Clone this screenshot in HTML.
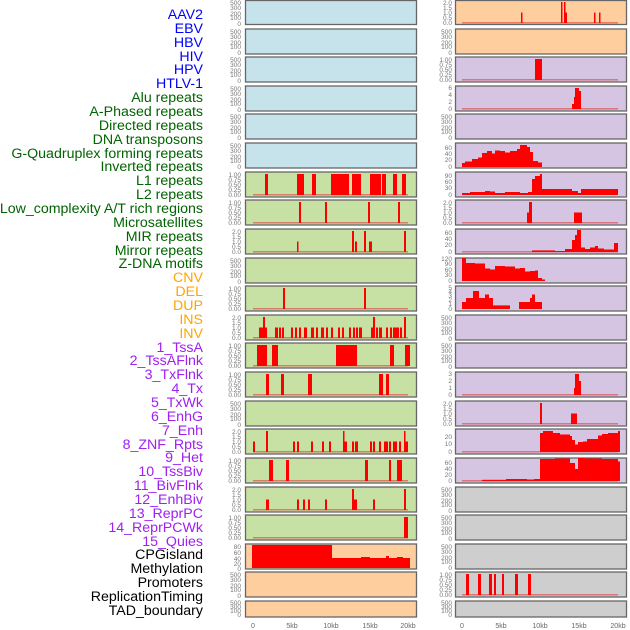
<!DOCTYPE html>
<html><head><meta charset="utf-8"><style>
body{margin:0;background:#fff;width:630px;height:630px;overflow:hidden}
svg{display:block}
.lb{font-family:"Liberation Sans",sans-serif;font-size:14.2px;text-anchor:end}
.t{font-family:"Liberation Sans",sans-serif;font-size:6.5px;fill:#777;text-anchor:end}
.x{font-family:"Liberation Sans",sans-serif;font-size:7px;fill:#666;text-anchor:middle}
</style></head><body>
<svg width="630" height="630" viewBox="0 0 630 630" xmlns="http://www.w3.org/2000/svg">
<g class="lb" transform="translate(0,-1)">
<g fill="#0000ff">
<text x="203" y="20">AAV2</text><text x="203" y="34">EBV</text><text x="203" y="48">HBV</text><text x="203" y="62">HIV</text><text x="203" y="75">HPV</text><text x="203" y="89">HTLV-1</text></g>
<g fill="#006400">
<text x="203" y="103">Alu repeats</text><text x="203" y="117">A-Phased repeats</text><text x="203" y="131">Directed repeats</text><text x="203" y="145">DNA transposons</text><text x="203" y="159">G-Quadruplex forming repeats</text><text x="203" y="172">Inverted repeats</text><text x="203" y="186">L1 repeats</text><text x="203" y="200">L2 repeats</text><text x="203" y="214">Low_complexity A/T rich regions</text><text x="203" y="228">Microsatellites</text><text x="203" y="242">MIR repeats</text><text x="203" y="256">Mirror repeats</text><text x="203" y="269">Z-DNA motifs</text></g>
<g fill="#ffa500">
<text x="203" y="283">CNV</text><text x="203" y="297">DEL</text><text x="203" y="311">DUP</text><text x="203" y="325">INS</text><text x="203" y="339">INV</text></g>
<g fill="#a020f0">
<text x="203" y="353">1_TssA</text><text x="203" y="366">2_TssAFlnk</text><text x="203" y="380">3_TxFlnk</text><text x="203" y="394">4_Tx</text><text x="203" y="408">5_TxWk</text><text x="203" y="422">6_EnhG</text><text x="203" y="436">7_Enh</text><text x="203" y="450">8_ZNF_Rpts</text><text x="203" y="463">9_Het</text><text x="203" y="477">10_TssBiv</text><text x="203" y="491">11_BivFlnk</text><text x="203" y="505">12_EnhBiv</text><text x="203" y="519">13_ReprPC</text><text x="203" y="533">14_ReprPCWk</text><text x="203" y="547">15_Quies</text></g>
<g fill="#000">
<text x="203" y="560">CPGisland</text><text x="203" y="574">Methylation</text><text x="203" y="588">Promoters</text><text x="203" y="602">ReplicationTiming</text><text x="203" y="616">TAD_boundary</text></g>
</g>

<g stroke="#666" stroke-width="1.3">
<g fill="#c6e3eb">
<rect x="245.5" y="0.5" width="171" height="24"/><rect x="245.5" y="29" width="171" height="25"/><rect x="245.5" y="57" width="171" height="25"/><rect x="245.5" y="86" width="171" height="25"/><rect x="245.5" y="114" width="171" height="25"/><rect x="245.5" y="143" width="171" height="25"/></g>
<g fill="#c7e0a4">
<rect x="245.5" y="172" width="171" height="25"/><rect x="245.5" y="200" width="171" height="25"/><rect x="245.5" y="229" width="171" height="25"/><rect x="245.5" y="258" width="171" height="25"/><rect x="245.5" y="286" width="171" height="25"/><rect x="245.5" y="315" width="171" height="25"/><rect x="245.5" y="343" width="171" height="25"/><rect x="245.5" y="372" width="171" height="25"/><rect x="245.5" y="401" width="171" height="25"/><rect x="245.5" y="429" width="171" height="25"/><rect x="245.5" y="458" width="171" height="25"/><rect x="245.5" y="487" width="171" height="25"/><rect x="245.5" y="515" width="171" height="25"/></g>
<g fill="#ffce9f">
<rect x="245.5" y="544" width="171" height="25"/><rect x="245.5" y="572" width="171" height="25"/><rect x="245.5" y="601" width="171" height="16"/></g>
<g fill="#ffce9f">
<rect x="455.5" y="0.5" width="171" height="24"/><rect x="455.5" y="29" width="171" height="25"/></g>
<g fill="#d5c5e2">
<rect x="455.5" y="57" width="171" height="25"/><rect x="455.5" y="86" width="171" height="25"/><rect x="455.5" y="114" width="171" height="25"/><rect x="455.5" y="143" width="171" height="25"/><rect x="455.5" y="172" width="171" height="25"/><rect x="455.5" y="200" width="171" height="25"/><rect x="455.5" y="229" width="171" height="25"/><rect x="455.5" y="258" width="171" height="25"/><rect x="455.5" y="286" width="171" height="25"/><rect x="455.5" y="315" width="171" height="25"/><rect x="455.5" y="343" width="171" height="25"/><rect x="455.5" y="372" width="171" height="25"/><rect x="455.5" y="401" width="171" height="25"/><rect x="455.5" y="429" width="171" height="25"/><rect x="455.5" y="458" width="171" height="25"/></g>
<g fill="#cecece">
<rect x="455.5" y="487" width="171" height="25"/><rect x="455.5" y="515" width="171" height="25"/><rect x="455.5" y="544" width="171" height="25"/><rect x="455.5" y="572" width="171" height="25"/><rect x="455.5" y="601" width="171" height="16"/></g>
</g>

<g fill="#e04040" opacity="0.6">
<rect x="253" y="194" width="155" height="1.5"/><rect x="253" y="222" width="155" height="1.5"/><rect x="253" y="251" width="155" height="1.5"/><rect x="253" y="308" width="155" height="1.5"/><rect x="253" y="337" width="155" height="1.5"/><rect x="253" y="365" width="155" height="1.5"/><rect x="253" y="394" width="155" height="1.5"/><rect x="253" y="451" width="155" height="1.5"/><rect x="253" y="480" width="155" height="1.5"/><rect x="253" y="509" width="155" height="1.5"/><rect x="253" y="537" width="155" height="1.5"/>
<rect x="462" y="22" width="156" height="1.5"/><rect x="462" y="79" width="156" height="1.5"/><rect x="462" y="108" width="156" height="1.5"/><rect x="462" y="222" width="156" height="1.5"/><rect x="462" y="251" width="156" height="1.5"/><rect x="462" y="394" width="156" height="1.5"/><rect x="462" y="423" width="156" height="1.5"/><rect x="462" y="451" width="156" height="1.5"/><rect x="462" y="480" width="156" height="1.5"/><rect x="462" y="594" width="156" height="1.5"/>
</g>

<g fill="#ff0000">
<g transform="translate(0,195) scale(1,-1)"><rect x="265" y="0" width="3" height="21"/><rect x="297" y="0" width="7" height="21"/><rect x="312" y="0" width="4" height="21"/><rect x="331" y="0" width="18" height="21"/><rect x="352" y="0" width="9" height="21"/><rect x="370" y="0" width="11" height="21"/><rect x="382" y="0" width="4" height="21"/><rect x="393" y="0" width="4" height="21"/><rect x="402" y="0" width="4" height="21"/></g>
<g transform="translate(0,223) scale(1,-1)"><rect x="299" y="0" width="2" height="21"/><rect x="325" y="0" width="2" height="21"/><rect x="368" y="0" width="2" height="21"/><rect x="398" y="0" width="2" height="21"/></g>
<g transform="translate(0,252) scale(1,-1)"><rect x="297" y="0" width="1.5" height="10.5"/><rect x="352" y="0" width="2" height="21"/><rect x="355" y="0" width="2" height="10.5"/><rect x="364" y="0" width="2" height="21"/><rect x="369" y="0" width="3" height="10.5"/><rect x="404" y="0" width="2" height="21"/></g>
<g transform="translate(0,309) scale(1,-1)"><rect x="283" y="0" width="2" height="21"/><rect x="364" y="0" width="2" height="21"/></g>
<g transform="translate(0,338) scale(1,-1)"><rect x="259" y="0" width="8" height="10.5"/><rect x="263" y="0" width="2" height="21"/><rect x="275" y="0" width="3" height="10.5"/><rect x="279" y="0" width="2" height="10.5"/><rect x="282" y="0" width="2" height="10.5"/><rect x="291" y="0" width="2" height="10.5"/><rect x="295" y="0" width="2" height="10.5"/><rect x="299" y="0" width="2" height="10.5"/><rect x="304" y="0" width="3" height="10.5"/><rect x="311" y="0" width="3" height="10.5"/><rect x="316" y="0" width="2" height="10.5"/><rect x="321" y="0" width="3" height="10.5"/><rect x="326" y="0" width="2" height="10.5"/><rect x="331" y="0" width="2" height="10.5"/><rect x="338" y="0" width="2" height="10.5"/><rect x="342" y="0" width="2" height="10.5"/><rect x="349" y="0" width="2" height="10.5"/><rect x="353" y="0" width="2" height="10.5"/><rect x="356" y="0" width="2" height="10.5"/><rect x="359" y="0" width="3" height="10.5"/><rect x="371" y="0" width="3" height="10.5"/><rect x="373" y="0" width="2" height="21"/><rect x="376" y="0" width="2" height="10.5"/><rect x="379" y="0" width="3" height="10.5"/><rect x="386" y="0" width="2" height="10.5"/><rect x="390" y="0" width="2" height="10.5"/><rect x="393" y="0" width="6" height="10.5"/><rect x="400" y="0" width="2" height="10.5"/><rect x="404" y="0" width="2" height="21"/></g>
<g transform="translate(0,366) scale(1,-1)"><rect x="257" y="0" width="10" height="21"/><rect x="272" y="0" width="6" height="21"/><rect x="336" y="0" width="21" height="21"/><rect x="390" y="0" width="4" height="21"/><rect x="405" y="0" width="5" height="21"/></g>
<g transform="translate(0,395) scale(1,-1)"><rect x="266" y="0" width="3" height="21"/><rect x="281" y="0" width="3" height="21"/><rect x="308" y="0" width="4" height="21"/><rect x="379" y="0" width="4" height="21"/><rect x="386" y="0" width="3" height="21"/></g>
<g transform="translate(0,452) scale(1,-1)"><rect x="253" y="0" width="2" height="10.5"/><rect x="266" y="0" width="2" height="21"/><rect x="293" y="0" width="2" height="10.5"/><rect x="297" y="0" width="2" height="10.5"/><rect x="311" y="0" width="2" height="10.5"/><rect x="322" y="0" width="2" height="10.5"/><rect x="329" y="0" width="2" height="10.5"/><rect x="343" y="0" width="1.5" height="21"/><rect x="344" y="0" width="3" height="10.5"/><rect x="352" y="0" width="2" height="10.5"/><rect x="355" y="0" width="3" height="10.5"/><rect x="370" y="0" width="2" height="10.5"/><rect x="373" y="0" width="2" height="10.5"/><rect x="379" y="0" width="2" height="10.5"/><rect x="384" y="0" width="4" height="10.5"/><rect x="389" y="0" width="2" height="10.5"/><rect x="393" y="0" width="4" height="10.5"/><rect x="399" y="0" width="2" height="10.5"/><rect x="404" y="0" width="1.5" height="21"/><rect x="405" y="0" width="3" height="10.5"/></g>
<g transform="translate(0,481) scale(1,-1)"><rect x="269" y="0" width="4" height="21"/><rect x="286" y="0" width="3" height="21"/><rect x="365" y="0" width="3" height="21"/><rect x="389" y="0" width="2" height="21"/><rect x="397" y="0" width="5" height="21"/></g>
<g transform="translate(0,510) scale(1,-1)"><rect x="266" y="0" width="3" height="10.5"/><rect x="297" y="0" width="2" height="10.5"/><rect x="303" y="0" width="2" height="10.5"/><rect x="308" y="0" width="2" height="10.5"/><rect x="325" y="0" width="2" height="10.5"/><rect x="352" y="0" width="2" height="21"/><rect x="354" y="0" width="3" height="10.5"/><rect x="373" y="0" width="2" height="10.5"/><rect x="404" y="0" width="2" height="21"/></g>
<g transform="translate(0,538) scale(1,-1)"><rect x="404" y="0" width="4" height="21"/></g>
<g transform="translate(0,568) scale(1,-1)"><rect x="252" y="0" width="80" height="23"/><rect x="332" y="0" width="78" height="10"/><rect x="361" y="0" width="9" height="11"/><rect x="386" y="0" width="3" height="12"/><rect x="397" y="0" width="6" height="11"/></g>

<g transform="translate(0,23) scale(1,-1)"><rect x="521" y="0" width="1.5" height="10.5"/><rect x="561" y="0" width="1.5" height="21"/><rect x="564" y="0" width="1.5" height="21"/><rect x="565" y="0" width="2" height="10.5"/><rect x="594" y="0" width="1.5" height="10.5"/><rect x="599" y="0" width="1.5" height="10.5"/></g>
<g transform="translate(0,80) scale(1,-1)"><rect x="535" y="0" width="7" height="21"/></g>
<g transform="translate(0,109) scale(1,-1)"><rect x="572" y="0" width="2" height="5"/><rect x="574" y="0" width="1" height="12"/><rect x="575" y="0" width="4" height="21"/><rect x="579" y="0" width="2" height="18"/></g>
<g transform="translate(0,167) scale(1,-1)"><rect x="462" y="0" width="3" height="4"/><rect x="465" y="0" width="7" height="5.5"/><rect x="472" y="0" width="6" height="8"/><rect x="478" y="0" width="4" height="9.5"/><rect x="482" y="0" width="5" height="14"/><rect x="487" y="0" width="5" height="16"/><rect x="492" y="0" width="3" height="13.5"/><rect x="495" y="0" width="5" height="16.5"/><rect x="500" y="0" width="5" height="16"/><rect x="505" y="0" width="5" height="14.5"/><rect x="510" y="0" width="7" height="16"/><rect x="517" y="0" width="3" height="18"/><rect x="520" y="0" width="7" height="22"/><rect x="527" y="0" width="3" height="20"/><rect x="530" y="0" width="3" height="15"/><rect x="533" y="0" width="5" height="6"/><rect x="538" y="0" width="4" height="4.5"/></g>
<g transform="translate(0,195) scale(1,-1)"><rect x="462" y="0" width="8" height="2"/><rect x="470" y="0" width="15" height="3"/><rect x="485" y="0" width="5" height="4"/><rect x="490" y="0" width="5" height="3.5"/><rect x="495" y="0" width="10" height="2"/><rect x="505" y="0" width="15" height="3"/><rect x="520" y="0" width="8" height="2"/><rect x="528" y="0" width="4" height="3"/><rect x="532" y="0" width="3" height="16"/><rect x="535" y="0" width="5" height="19"/><rect x="540" y="0" width="2" height="21"/><rect x="542" y="0" width="30" height="6"/><rect x="572" y="0" width="6" height="4"/><rect x="578" y="0" width="3" height="2"/><rect x="581" y="0" width="37" height="6"/></g>
<g transform="translate(0,223) scale(1,-1)"><rect x="527" y="0" width="2" height="10.5"/><rect x="529" y="0" width="3" height="21"/><rect x="574" y="0" width="8" height="10.5"/></g>
<g transform="translate(0,252) scale(1,-1)"><rect x="532" y="0" width="23" height="1.6"/><rect x="555" y="0" width="10" height="1"/><rect x="565" y="0" width="7" height="3"/><rect x="572" y="0" width="3" height="12"/><rect x="575" y="0" width="2" height="17"/><rect x="577" y="0" width="4" height="22"/><rect x="581" y="0" width="4" height="4.5"/><rect x="585" y="0" width="5" height="3"/><rect x="590" y="0" width="5" height="4.5"/><rect x="595" y="0" width="3" height="6"/><rect x="598" y="0" width="6" height="3.5"/><rect x="604" y="0" width="10" height="2.5"/><rect x="614" y="0" width="4" height="9"/></g>
<g transform="translate(0,281) scale(1,-1)"><rect x="462" y="0" width="4" height="23"/><rect x="466" y="0" width="9" height="18"/><rect x="475" y="0" width="10" height="17.5"/><rect x="485" y="0" width="5" height="12.5"/><rect x="490" y="0" width="5" height="11.5"/><rect x="495" y="0" width="10" height="15"/><rect x="505" y="0" width="10" height="14.5"/><rect x="515" y="0" width="5" height="12.5"/><rect x="520" y="0" width="5" height="13"/><rect x="525" y="0" width="5" height="9.5"/><rect x="530" y="0" width="5" height="10"/><rect x="535" y="0" width="3" height="10.5"/><rect x="538" y="0" width="4" height="3"/><rect x="542" y="0" width="3" height="1.5"/></g>
<g transform="translate(0,309) scale(1,-1)"><rect x="462" y="0" width="4" height="7"/><rect x="466" y="0" width="7" height="11"/><rect x="473" y="0" width="6" height="18"/><rect x="479" y="0" width="6" height="11"/><rect x="485" y="0" width="4" height="14.5"/><rect x="489" y="0" width="4" height="11"/><rect x="493" y="0" width="17" height="3.6"/><rect x="519" y="0" width="11" height="7"/><rect x="530" y="0" width="2" height="11"/><rect x="532" y="0" width="3" height="14.5"/><rect x="535" y="0" width="7" height="7"/></g>
<g transform="translate(0,395) scale(1,-1)"><rect x="574" y="0" width="1" height="7"/><rect x="575" y="0" width="4" height="21"/><rect x="579" y="0" width="2" height="14"/></g>
<g transform="translate(0,424) scale(1,-1)"><rect x="540" y="0" width="2" height="21"/><rect x="571" y="0" width="6" height="10.5"/></g>
<g transform="translate(0,452) scale(1,-1)"><rect x="540" y="0" width="3" height="19"/><rect x="543" y="0" width="10" height="21"/><rect x="553" y="0" width="7" height="19"/><rect x="560" y="0" width="10" height="17.5"/><rect x="570" y="0" width="2" height="16"/><rect x="572" y="0" width="3" height="12"/><rect x="575" y="0" width="3" height="7.5"/><rect x="578" y="0" width="5" height="10"/><rect x="583" y="0" width="4" height="10.5"/><rect x="587" y="0" width="11" height="13"/><rect x="598" y="0" width="4" height="16.5"/><rect x="602" y="0" width="6" height="18"/><rect x="608" y="0" width="10" height="19"/><rect x="618" y="0" width="2" height="21"/></g>
<g transform="translate(0,481) scale(1,-1)"><rect x="482" y="0" width="24" height="1.2"/><rect x="506" y="0" width="21" height="2"/><rect x="527" y="0" width="7" height="1.5"/><rect x="534" y="0" width="6" height="2"/><rect x="540" y="0" width="15" height="22"/><rect x="555" y="0" width="15" height="22.5"/><rect x="570" y="0" width="5" height="18"/><rect x="575" y="0" width="3" height="12"/><rect x="578" y="0" width="7" height="23"/><rect x="585" y="0" width="17" height="22.5"/><rect x="602" y="0" width="16" height="22"/><rect x="618" y="0" width="2" height="19.5"/></g>
<g transform="translate(0,595) scale(1,-1)"><rect x="466" y="0" width="3" height="21"/><rect x="478" y="0" width="3" height="21"/><rect x="489" y="0" width="3" height="21"/><rect x="494" y="0" width="2" height="21"/><rect x="502" y="0" width="2" height="21"/><rect x="515" y="0" width="3" height="21"/><rect x="528" y="0" width="3" height="21"/></g>
</g>

<g class="t">
<text x="241" y="5">500</text><text x="241" y="10">300</text><text x="241" y="16">200</text><text x="241" y="20">100</text><text x="241" y="26">0</text>
<text x="241" y="34">500</text><text x="241" y="39">300</text><text x="241" y="45">200</text><text x="241" y="49">100</text><text x="241" y="55">0</text>
<text x="241" y="62">500</text><text x="241" y="67">300</text><text x="241" y="73">200</text><text x="241" y="77">100</text><text x="241" y="83">0</text>
<text x="241" y="91">500</text><text x="241" y="96">300</text><text x="241" y="102">200</text><text x="241" y="106">100</text><text x="241" y="112">0</text>
<text x="241" y="119">500</text><text x="241" y="124">300</text><text x="241" y="130">200</text><text x="241" y="134">100</text><text x="241" y="140">0</text>
<text x="241" y="148">500</text><text x="241" y="153">300</text><text x="241" y="159">200</text><text x="241" y="163">100</text><text x="241" y="169">0</text>
<text x="241" y="177">1.00</text><text x="241" y="182">0.75</text><text x="241" y="187">0.50</text><text x="241" y="192">0.25</text><text x="241" y="197">0.00</text>
<text x="241" y="205">1.00</text><text x="241" y="210">0.75</text><text x="241" y="215">0.50</text><text x="241" y="220">0.25</text><text x="241" y="225">0.00</text>
<text x="241" y="234">2.0</text><text x="241" y="239">1.5</text><text x="241" y="244">1.0</text><text x="241" y="249">0.5</text><text x="241" y="254">0.0</text>
<text x="241" y="263">500</text><text x="241" y="268">300</text><text x="241" y="274">200</text><text x="241" y="278">100</text><text x="241" y="284">0</text>
<text x="241" y="291">1.00</text><text x="241" y="296">0.75</text><text x="241" y="301">0.50</text><text x="241" y="306">0.25</text><text x="241" y="311">0.00</text>
<text x="241" y="320">2.0</text><text x="241" y="325">1.5</text><text x="241" y="330">1.0</text><text x="241" y="335">0.5</text><text x="241" y="340">0.0</text>
<text x="241" y="348">1.00</text><text x="241" y="353">0.75</text><text x="241" y="358">0.50</text><text x="241" y="363">0.25</text><text x="241" y="368">0.00</text>
<text x="241" y="377">1.00</text><text x="241" y="382">0.75</text><text x="241" y="387">0.50</text><text x="241" y="392">0.25</text><text x="241" y="397">0.00</text>
<text x="241" y="406">500</text><text x="241" y="411">300</text><text x="241" y="417">200</text><text x="241" y="421">100</text><text x="241" y="427">0</text>
<text x="241" y="434">2.0</text><text x="241" y="439">1.5</text><text x="241" y="444">1.0</text><text x="241" y="449">0.5</text><text x="241" y="454">0.0</text>
<text x="241" y="463">1.00</text><text x="241" y="468">0.75</text><text x="241" y="473">0.50</text><text x="241" y="478">0.25</text><text x="241" y="483">0.00</text>
<text x="241" y="492">2.0</text><text x="241" y="497">1.5</text><text x="241" y="502">1.0</text><text x="241" y="507">0.5</text><text x="241" y="512">0.0</text>
<text x="241" y="520">1.00</text><text x="241" y="525">0.75</text><text x="241" y="530">0.50</text><text x="241" y="535">0.25</text><text x="241" y="540">0.00</text>
<text x="241" y="549">80</text><text x="241" y="555">60</text><text x="241" y="561">40</text><text x="241" y="566">20</text><text x="241" y="571">0</text>
<text x="241" y="577">500</text><text x="241" y="582">300</text><text x="241" y="588">200</text><text x="241" y="592">100</text><text x="241" y="598">0</text>
<text x="241" y="605">500</text><text x="241" y="609">300</text><text x="241" y="613">100</text><text x="241" y="617">0</text>
</g>
<g class="t">
<text x="452" y="5">2.0</text><text x="452" y="10">1.5</text><text x="452" y="15">1.0</text><text x="452" y="20">0.5</text><text x="452" y="25">0.0</text>
<text x="452" y="34">500</text><text x="452" y="39">300</text><text x="452" y="45">200</text><text x="452" y="49">100</text><text x="452" y="55">0</text>
<text x="452" y="62">1.00</text><text x="452" y="67">0.75</text><text x="452" y="72">0.50</text><text x="452" y="77">0.25</text><text x="452" y="82">0.00</text>
<text x="452" y="90">6</text><text x="452" y="97">4</text><text x="452" y="104">2</text><text x="452" y="111">0</text>
<text x="452" y="119">500</text><text x="452" y="124">300</text><text x="452" y="130">200</text><text x="452" y="134">100</text><text x="452" y="140">0</text>
<text x="452" y="150">60</text><text x="452" y="156">40</text><text x="452" y="162">20</text><text x="452" y="169">0</text>
<text x="452" y="178">90</text><text x="452" y="184">60</text><text x="452" y="190">30</text><text x="452" y="197">0</text>
<text x="452" y="205">2.0</text><text x="452" y="210">1.5</text><text x="452" y="215">1.0</text><text x="452" y="220">0.5</text><text x="452" y="225">0.0</text>
<text x="452" y="235">60</text><text x="452" y="241">40</text><text x="452" y="247">20</text><text x="452" y="254">0</text>
<text x="452" y="261">120</text><text x="452" y="266">90</text><text x="452" y="272">60</text><text x="452" y="277">30</text><text x="452" y="283">0</text>
<text x="452" y="290">5</text><text x="452" y="294">4</text><text x="452" y="298">3</text><text x="452" y="302">2</text><text x="452" y="306">1</text><text x="452" y="311">0</text>
<text x="452" y="320">500</text><text x="452" y="325">300</text><text x="452" y="331">200</text><text x="452" y="335">100</text><text x="452" y="341">0</text>
<text x="452" y="348">500</text><text x="452" y="353">300</text><text x="452" y="359">200</text><text x="452" y="363">100</text><text x="452" y="369">0</text>
<text x="452" y="376">3</text><text x="452" y="383">2</text><text x="452" y="390">1</text><text x="452" y="397">0</text>
<text x="452" y="406">2.0</text><text x="452" y="411">1.5</text><text x="452" y="416">1.0</text><text x="452" y="421">0.5</text><text x="452" y="426">0.0</text>
<text x="452" y="439">20</text><text x="452" y="446">10</text><text x="452" y="454">0</text>
<text x="452" y="465">60</text><text x="452" y="471">40</text><text x="452" y="477">20</text><text x="452" y="483">0</text>
<text x="452" y="492">500</text><text x="452" y="497">300</text><text x="452" y="503">200</text><text x="452" y="507">100</text><text x="452" y="513">0</text>
<text x="452" y="520">500</text><text x="452" y="525">300</text><text x="452" y="531">200</text><text x="452" y="535">100</text><text x="452" y="541">0</text>
<text x="452" y="549">500</text><text x="452" y="554">300</text><text x="452" y="560">200</text><text x="452" y="564">100</text><text x="452" y="570">0</text>
<text x="452" y="577">1.00</text><text x="452" y="582">0.75</text><text x="452" y="587">0.50</text><text x="452" y="592">0.25</text><text x="452" y="597">0.00</text>
<text x="452" y="605">500</text><text x="452" y="609">300</text><text x="452" y="613">100</text><text x="452" y="617">0</text>
</g>
<g class="x">
<text x="253" y="628">0</text><text x="292" y="628">5kb</text><text x="331" y="628">10kb</text><text x="370" y="628">15kb</text><text x="408" y="628">20kb</text>
<text x="462" y="628">0</text><text x="501" y="628">5kb</text><text x="540" y="628">10kb</text><text x="579" y="628">15kb</text><text x="618" y="628">20kb</text>
</g>
</svg>
</body></html>
